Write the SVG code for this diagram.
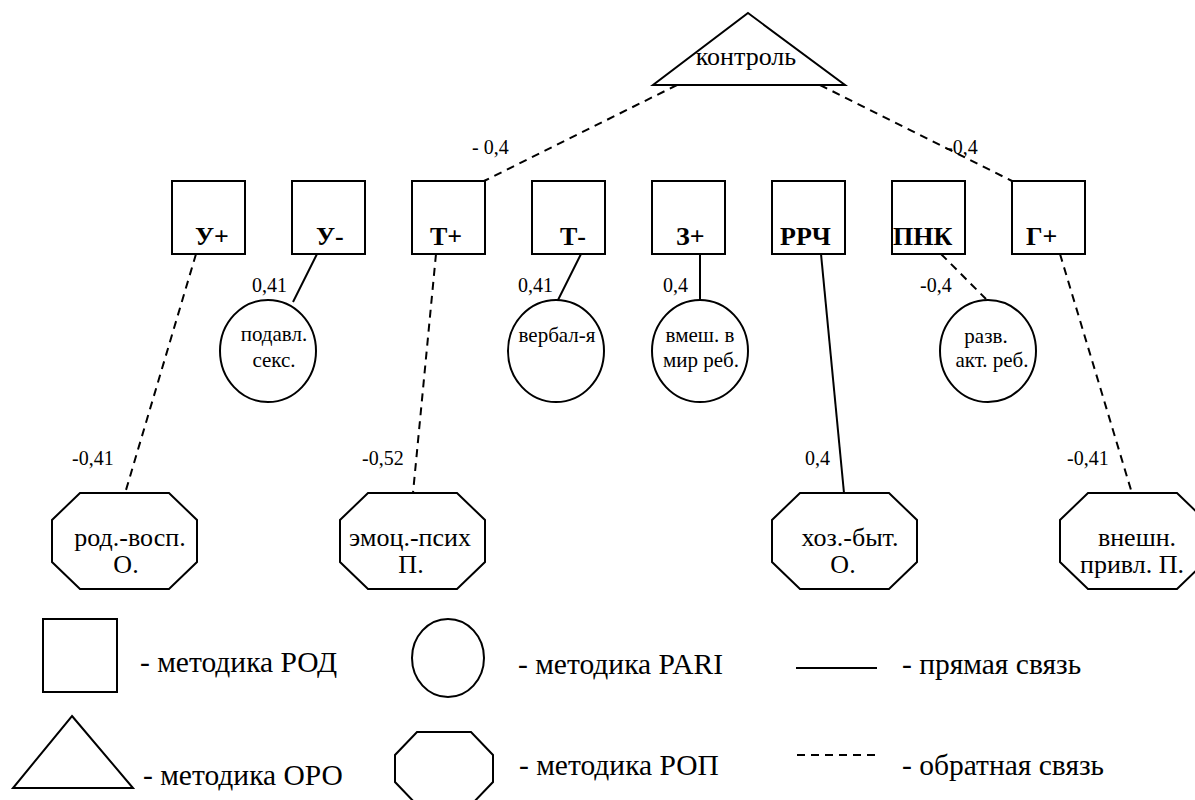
<svg xmlns="http://www.w3.org/2000/svg" width="1195" height="800" viewBox="0 0 1195 800" font-family="'Liberation Serif', 'DejaVu Serif', 'Times New Roman', serif">
<style>
.s{fill:#fff;stroke:#000;stroke-width:2}
.lg{fill:none;stroke:#000;stroke-width:2}
.solid{stroke:#000;stroke-width:2;fill:none}
.dash{stroke:#000;stroke-width:2;fill:none;stroke-dasharray:8 6}
text{font-family:'Liberation Serif','DejaVu Serif','Times New Roman',serif;fill:#000}
.nl{font-size:26px;font-weight:bold}
.el{font-size:20px}
.ct{font-size:21px;text-anchor:middle}
.ot{font-size:26px;text-anchor:middle}
.lt{font-size:29.5px}
</style>
<rect width="1195" height="800" fill="#fff"/>
<g id="connectors">
<line class="dash" x1="677" y1="85" x2="484" y2="181"/>
<line class="dash" x1="820" y1="85" x2="1012" y2="181"/>
<line class="dash" x1="196" y1="254" x2="126" y2="490"/>
<line class="solid" x1="317" y1="254" x2="293" y2="302"/>
<line class="dash" x1="436" y1="254" x2="413" y2="493"/>
<line class="solid" x1="581" y1="254" x2="557" y2="302"/>
<line class="solid" x1="700" y1="254" x2="700" y2="301"/>
<line class="solid" x1="821" y1="254" x2="844" y2="493"/>
<line class="dash" x1="941" y1="254" x2="986" y2="299"/>
<line class="dash" x1="1060" y1="254" x2="1131" y2="490"/>
<text class="el" x="472" y="154">- 0,4</text>
<text class="el" x="946" y="154">-0,4</text>
<text class="el" x="252" y="292">0,41</text>
<text class="el" x="518" y="292">0,41</text>
<text class="el" x="663" y="292">0,4</text>
<text class="el" x="920" y="292">-0,4</text>
<text class="el" x="72" y="465">-0,41</text>
<text class="el" x="362" y="465">-0,52</text>
<text class="el" x="805" y="465">0,4</text>
<text class="el" x="1067" y="465">-0,41</text>
</g>
<g id="control">
<polygon class="s" points="748,13 845,85 653,85"/>
<text x="746" y="65" style="font-size:26px;text-anchor:middle">контроль</text>
</g>
<g id="U_plus"><rect class="s" x="172" y="181" width="73" height="73"/><text class="nl" x="195" y="245">У+</text></g>
<g id="U_minus"><rect class="s" x="292" y="181" width="73" height="73"/><text class="nl" x="316" y="245">У-</text></g>
<g id="T_plus"><rect class="s" x="412" y="181" width="73" height="73"/><text class="nl" x="430" y="245">Т+</text></g>
<g id="T_minus"><rect class="s" x="532" y="181" width="73" height="73"/><text class="nl" x="560" y="245">Т-</text></g>
<g id="Z_plus"><rect class="s" x="652" y="181" width="73" height="73"/><text class="nl" x="676" y="245">З+</text></g>
<g id="RRCH"><rect class="s" x="772" y="181" width="73" height="73"/><text class="nl" x="780" y="245">РРЧ</text></g>
<g id="PNK"><rect class="s" x="892" y="181" width="73" height="73"/><text class="nl" x="893" y="245">ПНК</text></g>
<g id="G_plus"><rect class="s" x="1012" y="181" width="73" height="73"/><text class="nl" x="1026" y="245">Г+</text></g>
<g id="podavl"><ellipse class="s" cx="268" cy="351" rx="48" ry="51"/><text class="ct" x="274" y="341">подавл.</text><text class="ct" x="274" y="367">секс.</text></g>
<g id="verbal"><ellipse class="s" cx="556" cy="351" rx="48" ry="51"/><text class="ct" x="557" y="342">вербал-я</text></g>
<g id="vmesh"><ellipse class="s" cx="700" cy="351" rx="48" ry="51"/><text class="ct" x="700" y="342">вмеш. в</text><text class="ct" x="701" y="367">мир реб.</text></g>
<g id="razv"><ellipse class="s" cx="988" cy="351" rx="48" ry="51"/><text class="ct" x="986" y="343">разв.</text><text class="ct" x="992" y="367">акт. реб.</text></g>
<g id="rod_vosp"><polygon class="s" points="80,493 169,493 197,520 197,562 169,589 80,589 52,562 52,520"/><text class="ot" x="130" y="546">род.-восп.</text><text class="ot" x="126" y="573">О.</text></g>
<g id="emoc_psih"><polygon class="s" points="368,493 457,493 485,520 485,562 457,589 368,589 340,562 340,520"/><text class="ot" x="410" y="546">эмоц.-псих</text><text class="ot" x="411" y="573">П.</text></g>
<g id="hoz_byt"><polygon class="s" points="800,493 889,493 917,520 917,562 889,589 800,589 772,562 772,520"/><text class="ot" x="850" y="546">хоз.-быт.</text><text class="ot" x="843" y="573">О.</text></g>
<g id="vneshn"><polygon class="s" points="1088,493 1177,493 1205,520 1205,562 1177,589 1088,589 1060,562 1060,520"/><text class="ot" x="1137" y="546">внешн.</text><text class="ot" x="1132" y="573">привл. П.</text></g>
<g id="legend">
<rect class="lg" x="43" y="619" width="74" height="73"/>
<text class="lt" x="140" y="672">- методика РОД</text>
<polygon class="lg" points="72,716 133,788 13,788"/>
<text class="lt" x="143" y="785">- методика ОРО</text>
<ellipse class="lg" cx="448" cy="658" rx="36" ry="39"/>
<text class="lt" x="518" y="674">- методика PARI</text>
<polygon class="lg" points="417,732 471,732 493,755 493,782 471,805 417,805 395,782 395,755"/>
<text class="lt" x="519" y="775">- методика РОП</text>
<line class="solid" x1="796" y1="668" x2="877" y2="668"/>
<text class="lt" x="902" y="674">- прямая связь</text>
<line class="dash" x1="797" y1="755" x2="877" y2="755"/>
<text class="lt" x="902" y="775">- обратная связь</text>
</g>
</svg>
